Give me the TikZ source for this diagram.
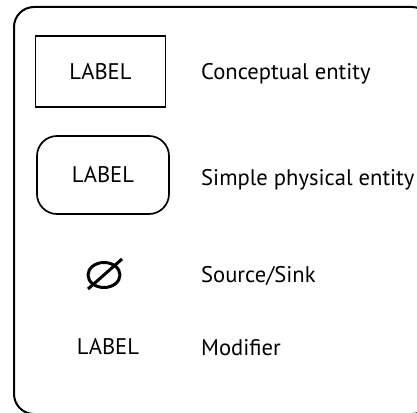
\documentclass[tikz,border=0pt]{standalone}
\usepackage{fontspec}
\setmainfont{PT Sans}
\usetikzlibrary{shapes.geometric}

\begin{document}
\begin{tikzpicture}[x=1pt,y=-1pt,
    every node/.style={font=\fontsize{22.6}{26}\selectfont},
    entity/.style={draw,line width=1.7pt,minimum width=130pt,minimum height=71pt},
    desc/.style={anchor=base west,inner sep=0pt}]

    \useasboundingbox (0,0) rectangle (417,412);
    \clip (0,0) rectangle (417,412);

    % Outer frame, it runs past the right and bottom edges
    \draw[line width=2pt,rounded corners=20pt] (14,7) rectangle (432,414);

    % The two kinds of entity box
    \node[entity] (concept) at (100.5,71.5) {LABEL};
    \node[entity,rounded corners=20pt,minimum width=132pt,minimum height=78pt] (physical) at (103,175) {LABEL};

    % Source/sink mark: a crossed-out circle
    \node[ellipse,draw,line width=3pt,minimum width=32pt,minimum height=25pt,inner sep=0pt] (sink) at (104,275) {};
    \draw[line width=3pt] ([shift={(-16,14)}]sink.center) -- ([shift={(18,-16)}]sink.center);

    % Modifier is only the bare word
    \node (modifier) at (108,347) {LABEL};

    % Descriptions in the right column
    \foreach \y/\name/\txt in {
    79/concept/{Conceptual entity},
    185/physical/{Simple physical entity},
    282/sink/{Source/Sink},
    355/modifier/{Modifier}} {
    \node [desc] (\name desc) at (201,\y) {\txt};
    }

\end{tikzpicture}
\end{document}
